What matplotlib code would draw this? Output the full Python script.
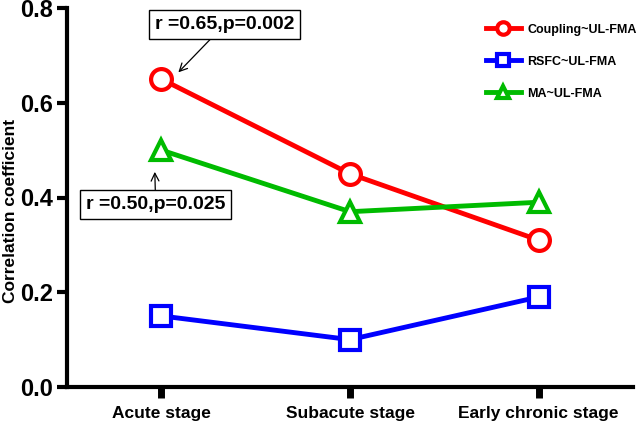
import matplotlib
matplotlib.use("Agg")
import matplotlib.pyplot as plt

stages = ["Acute stage", "Subacute stage", "Early chronic stage"]
coupling = [0.65, 0.45, 0.31]
rsfc = [0.15, 0.10, 0.19]
ma = [0.50, 0.37, 0.39]
series_labels = ["Coupling~UL-FMA", "RSFC~UL-FMA", "MA~UL-FMA"]
note_coupling = "r =0.65,p=0.002"
note_ma = "r =0.50,p=0.025"

plt.rcParams["font.family"] = ["Liberation Sans", "DejaVu Sans"]
plt.rcParams["font.weight"] = "bold"

fig = plt.figure(figsize=(6.41, 4.38), dpi=100)
ax = fig.add_axes([67 / 641, 1 - 387 / 438, (633 - 67) / 641, (387 - 8) / 438])

x = list(range(len(stages)))
common = dict(lw=3.5, ms=15, mew=3, mfc="white")
ax.plot(x, coupling, color="#ff0000", marker="o", label=series_labels[0], **common)
ax.plot(x, rsfc, color="#0000ff", marker="s", label=series_labels[1], **common)
ax.plot(x, ma, color="#00bb00", marker="^", label=series_labels[2], **common)

ax.set_xlim(-0.5, 2.5)
ax.set_ylim(0, 0.8)
ax.set_yticks([0.0, 0.2, 0.4, 0.6, 0.8])
ax.set_yticklabels(["0.0", "0.2", "0.4", "0.6", "0.8"], fontsize=17, fontweight="bold")
ax.set_xticks(x)
ax.set_xticklabels(stages, fontsize=12.5, fontweight="bold")
ax.tick_params(axis="y", direction="out", length=7, width=3, pad=3)
ax.tick_params(axis="x", direction="out", length=8, width=5, pad=6)
ax.set_ylabel("Correlation coefficient", fontsize=12.5, fontweight="bold")
ax.yaxis.set_label_coords(-0.086, 0.465)

for s in ("top", "right"):
    ax.spines[s].set_visible(False)
for s in ("left", "bottom"):
    ax.spines[s].set_linewidth(3)

box = dict(boxstyle="square,pad=0.3", fc="white", ec="black", lw=1)
ax.annotate(note_coupling, xy=(0.08, coupling[0] + 0.01), xytext=(0.335, 0.765),
            fontsize=14, fontweight="bold", ha="center", va="center", bbox=box,
            arrowprops=dict(arrowstyle="->", color="black", lw=0.9, shrinkA=0, shrinkB=2))
ax.annotate(note_ma, xy=(-0.035, ma[0] - 0.04), xytext=(-0.03, 0.385),
            fontsize=14, fontweight="bold", ha="center", va="center", bbox=box,
            arrowprops=dict(arrowstyle="->", color="black", lw=0.9, shrinkA=0, shrinkB=2))

leg = ax.legend(loc="upper left", bbox_to_anchor=(0.72, 0.988), frameon=False,
                prop=dict(size=9, weight="bold"), handlelength=2.8,
                labelspacing=1.6, markerscale=0.6, handletextpad=0.5)

fig.savefig("out.png", dpi=100)
